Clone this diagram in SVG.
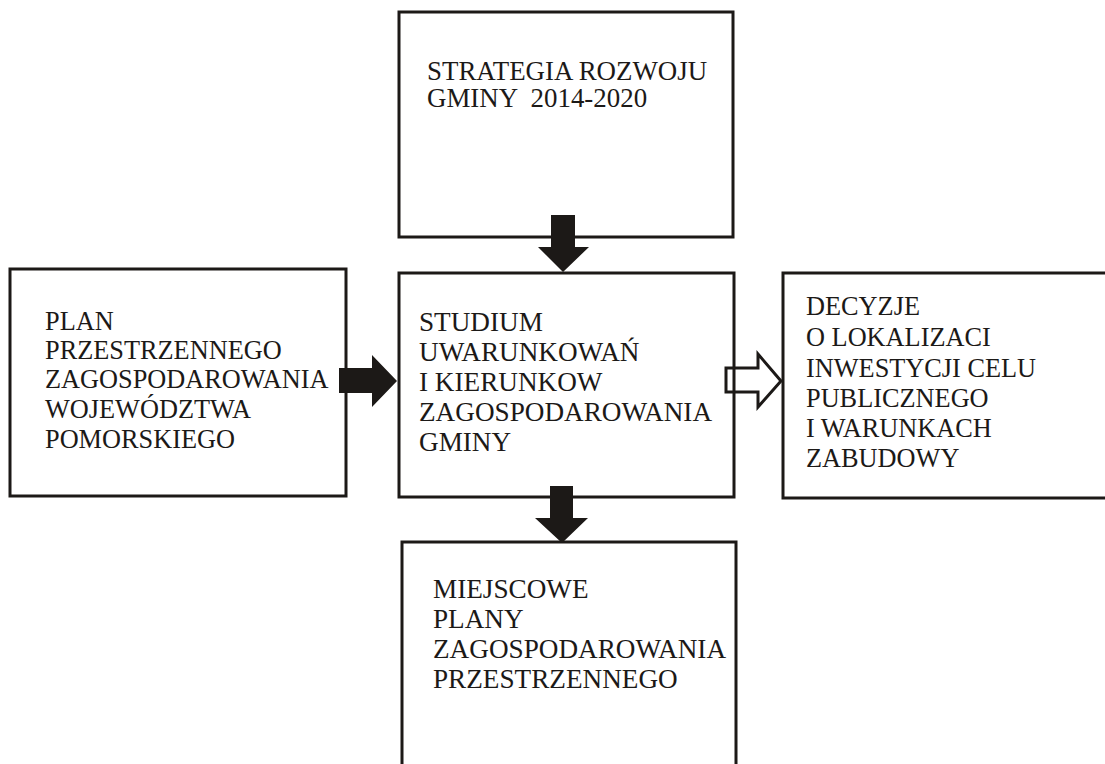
<svg xmlns="http://www.w3.org/2000/svg" width="1105" height="764" viewBox="0 0 1105 764">
<style>
.box{fill:none;stroke:#1c1917;stroke-width:3}
.t{font-family:"Liberation Serif","Times New Roman",serif;font-size:26.3px;fill:#1c1917;white-space:pre}
.tm{font-size:27.2px}
.tt{font-size:26.9px}
.fa{fill:#1c1917;stroke:none}
.oa{fill:none;stroke:#1c1917;stroke-width:3;stroke-linejoin:miter}
</style>
<rect width="1105" height="764" fill="#ffffff"/>
<g id="strategia">
<rect class="box" x="399" y="12" width="334" height="225"/>
<text class="t tt" x="427" y="80" xml:space="preserve">STRATEGIA ROZWOJU</text>
<text class="t tt" x="427" y="107" xml:space="preserve">GMINY  2014-2020</text>
</g>
<g id="plan">
<rect class="box" x="10" y="269" width="336" height="227"/>
<text class="t" x="45" y="330">PLAN</text>
<text class="t" x="45" y="359">PRZESTRZENNEGO</text>
<text class="t" x="45" y="388">ZAGOSPODAROWANIA</text>
<text class="t" x="45" y="418">WOJEWÓDZTWA</text>
<text class="t" x="45" y="448">POMORSKIEGO</text>
</g>
<g id="studium">
<rect class="box" x="399" y="273" width="335" height="224"/>
<text class="t tm" x="419" y="331">STUDIUM</text>
<text class="t tm" x="419" y="361">UWARUNKOWAŃ</text>
<text class="t tm" x="419" y="391">I KIERUNKOW</text>
<text class="t tm" x="419" y="421">ZAGOSPODAROWANIA</text>
<text class="t tm" x="419" y="451">GMINY</text>
</g>
<g id="decyzje">
<rect class="box" x="783" y="273" width="340" height="225"/>
<text class="t" x="806" y="315">DECYZJE</text>
<text class="t" x="806" y="346">O LOKALIZACI</text>
<text class="t" x="806" y="377">INWESTYCJI CELU</text>
<text class="t" x="806" y="407">PUBLICZNEGO</text>
<text class="t" x="806" y="437">I WARUNKACH</text>
<text class="t" x="806" y="467">ZABUDOWY</text>
</g>
<g id="miejscowe">
<rect class="box" x="402" y="542" width="334" height="240"/>
<text class="t tm" x="433" y="598">MIEJSCOWE</text>
<text class="t tm" x="433" y="628">PLANY</text>
<text class="t tm" x="433" y="658">ZAGOSPODAROWANIA</text>
<text class="t tm" x="433" y="688">PRZESTRZENNEGO</text>
</g>
<g id="connectors">
<polygon class="fa" points="551,215 575,215 575,247 589,247 563,272 538,247 551,247"/>
<polygon class="fa" points="550,486 573,486 573,518 588,518 562,543 535,518 550,518"/>
<polygon class="fa" points="339,368 372,368 372,355 397,381 372,407 372,393 339,393"/>
<polygon class="oa" points="726,368 758,368 758,354 781,381 758,407 758,392 726,392"/>
</g>
</svg>
